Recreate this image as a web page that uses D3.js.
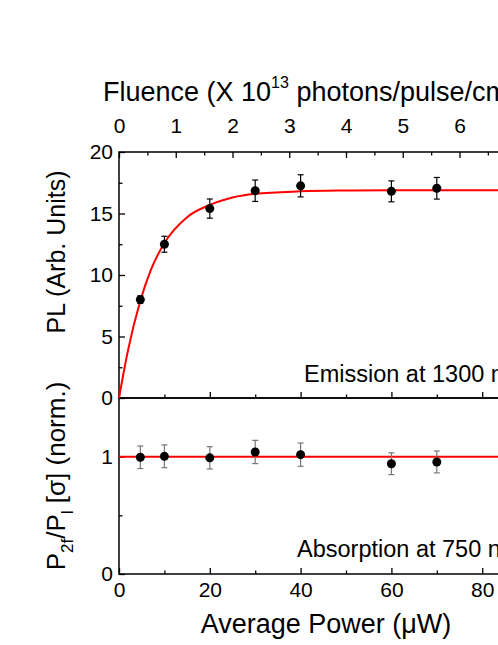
<!DOCTYPE html>
<html>
<head>
<meta charset="utf-8">
<script src="https://cdn.jsdelivr.net/npm/d3@7"></script>
<style>
  body { margin: 0; background: #fff; }
  text { font-family: "Liberation Sans", Arial, sans-serif; fill: #000; }
</style>
</head>
<body>
<div id="chart"></div>
<script>
// measured points (average power in uW)
var power = [4.7, 10, 20, 30, 40, 60, 70];
var plValues = [8.0, 12.5, 15.4, 16.85, 17.25, 16.8, 17.05];
var plErrors = [0.3, 0.65, 0.78, 0.87, 0.9, 0.85, 0.88];
var ratioValues = [0.995, 1.003, 0.99, 1.04, 1.017, 0.94, 0.955];
var ratioErrors = [0.096, 0.097, 0.095, 0.099, 0.099, 0.093, 0.093];

// fit curve
var fitPower = [0, 2, 4.7, 7, 10, 15, 20, 25, 30, 40, 50, 60, 80, 100];
var fitPL = [0, 3.9, 7.9, 10.4, 12.6, 14.7, 15.7, 16.3, 16.6, 16.8, 16.87, 16.9, 16.9, 16.9];
var fitRatio = 1.0;

var bottomTicks = [0, 20, 40, 60, 80, 100];
var fluenceTicks = [0, 1, 2, 3, 4, 5, 6, 7, 8];
var plTicks = [0, 5, 10, 15, 20];
var ratioTicks = [0, 1];

var W = 498, H = 645;
var left = 119, right = 573, topY = 152, midY = 398, bottomY = 574;
var tickFont = 21;

var svg = d3.select("#chart").append("svg")
    .attr("width", W)
    .attr("height", H);

var x = d3.scaleLinear().domain([0, 100]).range([left, right]),
    xf = d3.scaleLinear().domain([0, 8]).range([left, right]),
    yTop = d3.scaleLinear().domain([0, 20]).range([midY, topY]),
    yBot = d3.scaleLinear().domain([0, 1.5]).range([bottomY, midY]);

function styleAxis(g) {
    g.select(".domain").remove();
    g.selectAll(".tick line").attr("stroke", "#000").attr("stroke-width", 1.3);
    g.selectAll(".tick text").style("font-size", tickFont + "px");
}

// top panel: bottom edge ticks (no labels)
svg.append("g").attr("transform", "translate(0," + midY + ")")
    .call(d3.axisBottom(x).tickValues(bottomTicks).tickSize(-6).tickFormat(""))
    .call(styleAxis);
svg.append("g").attr("transform", "translate(0," + midY + ")")
    .call(d3.axisBottom(x).tickValues(d3.range(10, 100, 20)).tickSize(-3.5).tickFormat(""))
    .call(styleAxis);

// fluence axis on top
svg.append("g").attr("transform", "translate(0," + topY + ")")
    .call(d3.axisTop(xf).tickValues(fluenceTicks).tickSize(-6).tickPadding(19))
    .call(styleAxis);
svg.append("g").attr("transform", "translate(0," + topY + ")")
    .call(d3.axisTop(xf).tickValues(d3.range(0.5, 8, 1)).tickSize(-3.5).tickFormat(""))
    .call(styleAxis);

// PL axis
svg.append("g").attr("transform", "translate(" + left + ",0)")
    .call(d3.axisLeft(yTop).tickValues(plTicks).tickSize(-6).tickPadding(6))
    .call(styleAxis);
svg.append("g").attr("transform", "translate(" + left + ",0)")
    .call(d3.axisLeft(yTop).tickValues(d3.range(2.5, 20, 5)).tickSize(-3.5).tickFormat(""))
    .call(styleAxis);

// bottom panel axes
svg.append("g").attr("transform", "translate(0," + bottomY + ")")
    .call(d3.axisBottom(x).tickValues(bottomTicks).tickSize(-6).tickPadding(8))
    .call(styleAxis);
svg.append("g").attr("transform", "translate(0," + bottomY + ")")
    .call(d3.axisBottom(x).tickValues(d3.range(10, 100, 20)).tickSize(-3.5).tickFormat(""))
    .call(styleAxis);
svg.append("g").attr("transform", "translate(" + left + ",0)")
    .call(d3.axisLeft(yBot).tickValues(ratioTicks).tickSize(-6).tickPadding(6).tickFormat(d3.format("d")))
    .call(styleAxis);
svg.append("g").attr("transform", "translate(" + left + ",0)")
    .call(d3.axisLeft(yBot).tickValues([0.5]).tickSize(-3.5).tickFormat(""))
    .call(styleAxis);

// frames
[[topY, midY], [midY, bottomY]].forEach(function(p) {
    svg.append("rect")
        .attr("x", left).attr("y", p[0])
        .attr("width", right - left).attr("height", p[1] - p[0])
        .attr("fill", "none").attr("stroke", "#000").attr("stroke-width", 1.5);
});

// fit lines
var fitLine = d3.line()
    .curve(d3.curveMonotoneX)
    .x(function(d, i) { return x(fitPower[i]); })
    .y(function(d) { return yTop(d); });
svg.append("path")
    .attr("d", fitLine(fitPL))
    .attr("fill", "none").attr("stroke", "#ff0000").attr("stroke-width", 2);
svg.append("line")
    .attr("x1", x(0)).attr("x2", x(100))
    .attr("y1", yBot(fitRatio)).attr("y2", yBot(fitRatio))
    .attr("stroke", "#ff0000").attr("stroke-width", 2);

function drawPoints(vals, errs, y, errColor) {
    var g = svg.append("g");
    var pts = g.selectAll("g").data(power).enter().append("g");
    pts.append("line")
        .attr("x1", function(d) { return x(d); }).attr("x2", function(d) { return x(d); })
        .attr("y1", function(d, i) { return y(vals[i] - errs[i]); })
        .attr("y2", function(d, i) { return y(vals[i] + errs[i]); })
        .attr("stroke", errColor).attr("stroke-width", 1.2);
    [-1, 1].forEach(function(s) {
        pts.append("line")
            .attr("x1", function(d) { return x(d) - 3; }).attr("x2", function(d) { return x(d) + 3; })
            .attr("y1", function(d, i) { return y(vals[i] + s * errs[i]); })
            .attr("y2", function(d, i) { return y(vals[i] + s * errs[i]); })
            .attr("stroke", errColor).attr("stroke-width", 1.2);
    });
    pts.append("circle")
        .attr("cx", function(d) { return x(d); })
        .attr("cy", function(d, i) { return y(vals[i]); })
        .attr("r", 4.5)
        .attr("fill", "#000");
}
drawPoints(plValues, plErrors, yTop, "#000");
drawPoints(ratioValues, ratioErrors, yBot, "#777");

// panel notes
svg.append("text").attr("x", 304).attr("y", 382).style("font-size", "23.5px").text("Emission at 1300 nm");
svg.append("text").attr("x", 297).attr("y", 557).style("font-size", "23.5px").text("Absorption at 750 nm");

// titles
var ft = svg.append("text").attr("x", 103).attr("y", 101).style("font-size", "27px");
ft.append("tspan").text("Fluence (X 10");
ft.append("tspan").attr("dy", -13).style("font-size", "16px").text("13");
ft.append("tspan").attr("dy", 13).text(" photons/pulse/cm");
ft.append("tspan").attr("dy", -13).style("font-size", "16px").text("2");
ft.append("tspan").attr("dy", 13).text(")");

svg.append("text")
    .attr("x", 326).attr("y", 633)
    .attr("text-anchor", "middle")
    .style("font-size", "27px")
    .text("Average Power (\u03bcW)");

svg.append("text")
    .attr("transform", "translate(65,252) rotate(-90)")
    .attr("text-anchor", "middle")
    .style("font-size", "25px")
    .text("PL (Arb. Units)");

var yl = svg.append("text")
    .attr("transform", "translate(65,476) rotate(-90)")
    .attr("text-anchor", "middle")
    .style("font-size", "26px");
yl.append("tspan").text("P");
yl.append("tspan").attr("dy", 8).style("font-size", "17px").text("2f");
yl.append("tspan").attr("dy", -8).text("/P");
yl.append("tspan").attr("dy", 8).style("font-size", "17px").text("l");
yl.append("tspan").attr("dy", -8).text(" [\u03c3] (norm.)");
</script>
</body>
</html>
